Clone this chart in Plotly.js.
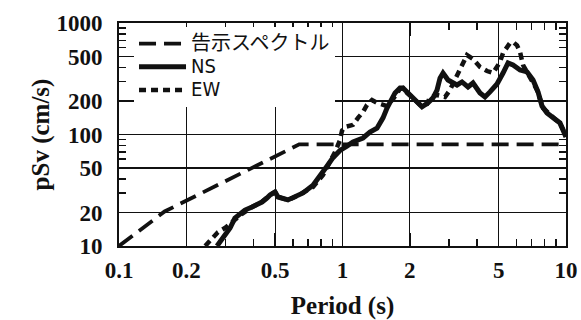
<!DOCTYPE html>
<html>
<head>
<meta charset="utf-8">
<script src="https://cdn.plot.ly/plotly-3.0.1.min.js"></script>
<style>html,body{margin:0;padding:0;background:#fff;}#chart{width:581px;height:320px;}</style>
</head>
<body>
<div id="chart"></div>
<script>
// Design spectrum (告示スペクトル)
const designT = [0.1, 0.16, 0.64, 10];
const designV = [10, 20.4, 81.5, 81.5];

// NS component
const nsT = [0.2745, 0.298, 0.314, 0.330, 0.366, 0.394, 0.436, 0.459, 0.474, 0.499, 0.515, 0.570, 0.613, 0.666, 0.738, 0.793, 0.852, 0.907, 0.974, 1.047, 1.114, 1.235, 1.327, 1.427, 1.518, 1.582, 1.631, 1.718, 1.808, 1.865, 1.944, 2.004, 2.154, 2.269, 2.413, 2.541, 2.648, 2.731, 2.817, 2.965, 3.253, 3.425, 3.644, 3.836, 4.123, 4.341, 4.571, 4.913, 5.227, 5.503, 5.794, 6.228, 6.693, 7.12, 7.496, 7.81, 8.22, 8.75, 9.40, 10];
const nsV = [10, 12.5, 14.5, 17.8, 21.0, 22.4, 24.8, 26.9, 28.7, 30.5, 27.5, 25.9, 27.5, 29.9, 35, 42, 52, 62, 72, 78.8, 85.6, 93, 105, 114, 141, 173, 196, 236, 261, 261, 240, 226, 192, 177, 192, 213, 250, 320, 356, 308, 278, 296, 267, 290, 236, 217, 241, 284, 356, 438, 420, 379, 364, 308, 241, 180, 156, 141, 127, 95];

// EW component
const ewT = [0.243, 0.277, 0.298, 0.320, 0.355, 0.394, 0.436, 0.474, 0.499, 0.515, 0.570, 0.613, 0.680, 0.738, 0.818, 0.879, 0.926, 0.974, 0.995, 1.026, 1.114, 1.173, 1.235, 1.287, 1.327, 1.355, 1.427, 1.582, 1.683, 1.808, 1.865, 1.944, 2.068, 2.223, 2.389, 2.464, 2.648, 2.876, 3.027, 3.187, 3.355, 3.606, 3.836, 4.123, 4.431, 4.714, 5.067, 5.227, 5.617, 5.794, 6.038, 6.228, 6.423, 6.903, 7.419, 7.89, 8.75, 9.40, 10];
const ewV = [10, 13.3, 14.5, 16.4, 19.4, 22.4, 24.8, 28.7, 30.5, 27.5, 25.9, 27.5, 30.5, 33.8, 43.3, 56.7, 69.7, 89, 108, 117, 122, 141, 159, 184, 200, 204, 192, 180, 208, 256, 261, 236, 212, 184, 188, 217, 226, 217, 251, 308, 379, 516, 476, 403, 371, 356, 447, 538, 662, 675, 630, 549, 420, 328, 251, 173, 144, 125, 99];

// Axis ticks
const xTickVals = [0.1, 0.2, 0.5, 1, 2, 5, 10];
const xTickText = ['0.1', '0.2', '0.5', '1', '2', '5', '10'];
const xMinorVals = [0.3, 0.4, 0.6, 0.7, 0.8, 0.9, 3, 4, 6, 7, 8, 9];
const yTickVals = [10, 20, 50, 100, 200, 500, 1000];
const yTickText = ['10', '20', '50', '100', '200', '500', '1000'];
const yMinorVals = [30, 40, 60, 70, 80, 90, 300, 400, 600, 700, 800, 900];

const names = ['告示スペクトル', 'NS', 'EW'];

const legendSpan = s => '<span style="font-size:20px">' + s + '</span>';

const traces = [
  {x: designT, y: designV, name: legendSpan(names[0]), mode: 'lines',
   line: {color: '#111', width: 3.8, dash: '17px,8px'}},
  {x: nsT, y: nsV, name: legendSpan(names[1]), mode: 'lines',
   line: {color: '#111', width: 5}},
  {x: ewT, y: ewV, name: legendSpan(names[2]), mode: 'lines',
   line: {color: '#111', width: 4.5, dash: '7px,5px'}}
];

const tickFont = {family: '"Liberation Serif", "Times New Roman", serif', size: 23, color: '#111', weight: 'bold'};
const titleFont = {family: '"Liberation Serif", "Times New Roman", serif', size: 25, color: '#111', weight: 'bold'};

const axisCommon = {
  type: 'log', showline: true, linecolor: '#111', linewidth: 2, mirror: 'ticks',
  ticks: 'inside', ticklen: 13, tickwidth: 1.5, tickcolor: '#111',
  showgrid: true, gridcolor: '#111', gridwidth: 1.3, zeroline: false,
  tickmode: 'array', tickfont: tickFont
};

const layout = {
  width: 581, height: 320,
  margin: {l: 119, r: 15, t: 23, b: 74},
  paper_bgcolor: '#fff', plot_bgcolor: '#fff',
  showlegend: true,
  legend: {x: 0.0336, y: 0.982, xanchor: 'left', yanchor: 'top', bgcolor: '#fff', borderwidth: 0,
    font: {family: '"Liberation Sans Narrow", "DejaVu Sans Condensed", "Noto Sans CJK JP", sans-serif', size: 15.5, color: '#111'},
    itemwidth: 47, tracegroupgap: 0},
  xaxis: Object.assign({}, axisCommon, {
    range: [-1, 1], tickvals: xTickVals, ticktext: xTickText, ticklabelstandoff: 2,
    minor: {tickmode: 'array', tickvals: xMinorVals, ticks: 'inside', ticklen: 7, tickwidth: 1.5, tickcolor: '#111', showgrid: false},
    title: {text: 'Period (s)', font: titleFont, standoff: 16}
  }),
  yaxis: Object.assign({}, axisCommon, {
    range: [1, 3], tickvals: yTickVals, ticktext: yTickText, ticklabelstandoff: 10,
    minor: {tickmode: 'array', tickvals: yMinorVals, ticks: 'inside', ticklen: 7, tickwidth: 1.5, tickcolor: '#111', showgrid: false},
    title: {text: 'pSv (cm/s)', font: titleFont, standoff: 0}
  })
};

Plotly.newPlot('chart', traces, layout, {displayModeBar: false, staticPlot: true});
</script>
</body>
</html>
